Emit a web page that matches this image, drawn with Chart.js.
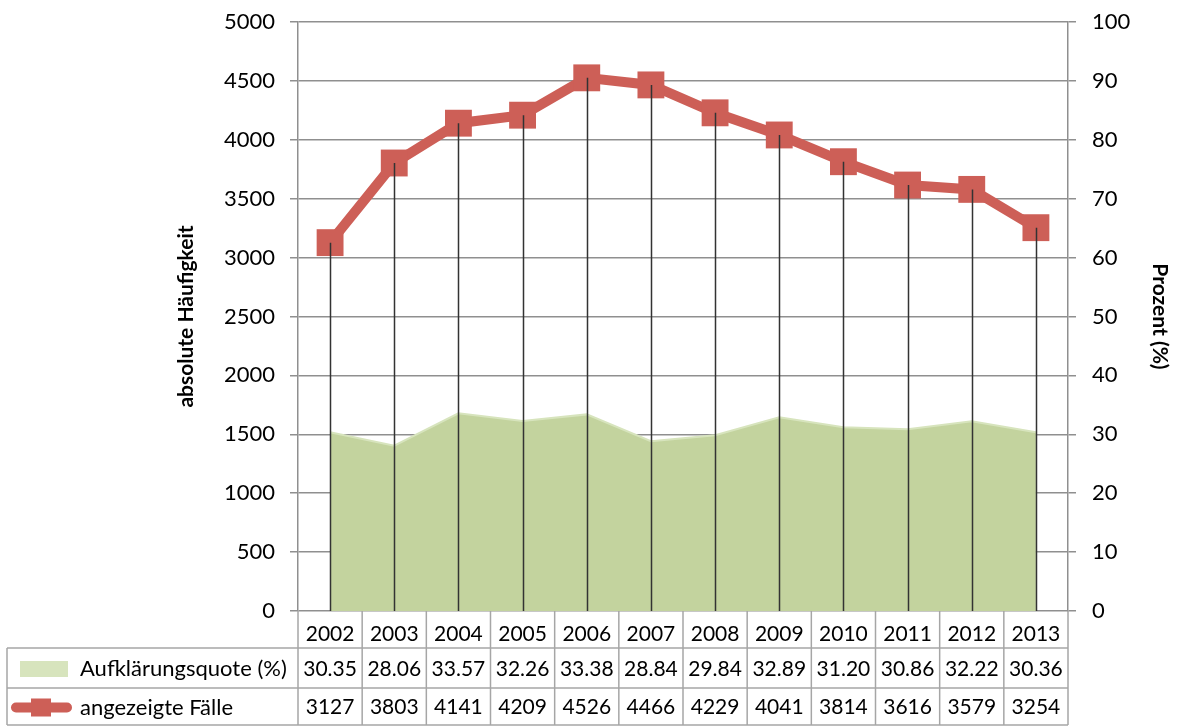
<!DOCTYPE html>
<html>
<head>
<meta charset="utf-8">
<script src="https://cdn.jsdelivr.net/npm/chart.js@4/dist/chart.umd.min.js"></script>
<style>
  html, body { margin: 0; padding: 0; background: #ffffff; }
  #wrap { width: 1177px; height: 726px; }
</style>
</head>
<body>
<div id="wrap"><canvas id="c" width="1177" height="726"></canvas></div>
<script>
const years = ['2002','2003','2004','2005','2006','2007','2008','2009','2010','2011','2012','2013'];
const quote = [30.35, 28.06, 33.57, 32.26, 33.38, 28.84, 29.84, 32.89, 31.20, 30.86, 32.22, 30.36];
const quoteText = ['30.35','28.06','33.57','32.26','33.38','28.84','29.84','32.89','31.20','30.86','32.22','30.36'];
const cases = [3127, 3803, 4141, 4209, 4526, 4466, 4229, 4041, 3814, 3616, 3579, 3254];
const quoteLabel = 'Aufklärungsquote (%)';
const casesLabel = 'angezeigte Fälle';

const FONT = 'Lato, "Open Sans", sans-serif';
const RED = '#CD5F57';
const GREEN = '#C3D39E';
const GREEN_LIGHT = '#D7E4BD';
const GRID = '#8f8f8f';

const dropLines = {
  id: 'dropLines',
  afterDatasetsDraw(chart) {
    const ctx = chart.ctx, x = chart.scales.x, y = chart.scales.y;
    ctx.save();
    ctx.strokeStyle = '#333333';
    ctx.lineWidth = 1.5;
    cases.forEach((v, i) => {
      const px = Math.round(x.getPixelForValue(i)) + 0.5;
      ctx.beginPath();
      ctx.moveTo(px, y.getPixelForValue(v));
      ctx.lineTo(px, y.getPixelForValue(0));
      ctx.stroke();
    });
    ctx.restore();
  }
};

const dataTable = {
  id: 'dataTable',
  afterDraw(chart) {
    const ctx = chart.ctx, x = chart.scales.x, a = chart.chartArea;
    const n = years.length;
    const w = (a.right - a.left) / n;
    const r0 = a.bottom, r1 = a.bottom + 37, r2 = a.bottom + 77, r3 = 725;
    const labelLeft = 7;
    ctx.save();
    ctx.strokeStyle = '#a6a6a6';
    ctx.lineWidth = 1.5;
    for (let i = 0; i <= n; i++) {
      const px = a.left + i * w;
      ctx.beginPath(); ctx.moveTo(px, r0); ctx.lineTo(px, r3); ctx.stroke();
    }
    ctx.beginPath(); ctx.moveTo(labelLeft, r1); ctx.lineTo(labelLeft, r3); ctx.stroke();
    [r1, r2, r3].forEach(ry => {
      ctx.beginPath(); ctx.moveTo(labelLeft, ry); ctx.lineTo(a.right, ry); ctx.stroke();
    });
    ctx.fillStyle = '#000';
    ctx.font = '21px ' + FONT;
    ctx.textAlign = 'center';
    ctx.textBaseline = 'middle';
    const m1 = (r1 + r2) / 2 + 1, m2 = (r2 + r3) / 2 + 1;
    for (let i = 0; i < n; i++) {
      const cx = x.getPixelForValue(i);
      ctx.fillText(quoteText[i], cx, m1);
      ctx.fillText(String(cases[i]), cx, m2);
    }
    ctx.font = '22px ' + FONT;
    ctx.textAlign = 'left';
    ctx.fillText(quoteLabel, 80, m1);
    ctx.fillText(casesLabel, 80, m2);
    ctx.fillStyle = GREEN_LIGHT;
    ctx.fillRect(20, m1 - 8, 48, 16);
    ctx.strokeStyle = RED;
    ctx.lineWidth = 10;
    ctx.lineCap = 'round';
    ctx.beginPath(); ctx.moveTo(16, m2); ctx.lineTo(67, m2); ctx.stroke();
    ctx.fillStyle = RED;
    ctx.fillRect(31, m2 - 9, 20, 18);
    ctx.restore();
  }
};

new Chart(document.getElementById('c'), {
  type: 'line',
  data: {
    labels: years,
    datasets: [
      {
        label: casesLabel,
        data: cases,
        yAxisID: 'y',
        borderColor: RED,
        backgroundColor: RED,
        borderWidth: 10,
        pointStyle: 'rect',
        pointRadius: 19,
        pointBorderWidth: 0,
        pointBackgroundColor: RED,
        tension: 0,
        fill: false
      },
      {
        label: quoteLabel,
        data: quote,
        yAxisID: 'y1',
        borderColor: GREEN_LIGHT,
        borderWidth: 2,
        backgroundColor: GREEN,
        fill: 'origin',
        pointRadius: 0,
        tension: 0
      }
    ]
  },
  options: {
    responsive: false,
    animation: false,
    devicePixelRatio: 1,
    layout: { padding: { left: 174, right: 5, top: 22, bottom: 0 } },
    plugins: { legend: { display: false }, tooltip: { enabled: false } },
    scales: {
      x: {
        type: 'category',
        offset: true,
        grid: { display: false },
        border: { display: false },
        ticks: { color: '#000', font: { family: FONT, size: 21 }, padding: 3, maxRotation: 0, autoSkip: false },
        afterFit(s) { s.height = 115; s.paddingLeft = 0; s.paddingRight = 0; }
      },
      y: {
        position: 'left',
        min: 0, max: 5000,
        ticks: { stepSize: 500, color: '#000', font: { family: FONT, size: 22 }, padding: 15, callback: v => String(v) },
        grid: { color: GRID, lineWidth: 1.5, tickLength: 8 },
        border: { color: GRID, width: 1.5 },
        title: { display: true, text: 'absolute Häufigkeit', color: '#000', font: { family: FONT, size: 21, weight: 'bold' }, padding: 0 },
        afterFit(s) { s.width = 124; s.paddingTop = 0; s.paddingBottom = 0; }
      },
      y1: {
        position: 'right',
        min: 0, max: 100,
        ticks: { stepSize: 10, color: '#000', font: { family: FONT, size: 22 }, padding: 16, callback: v => String(v) },
        grid: { drawOnChartArea: false, color: GRID, lineWidth: 1.5, tickLength: 8 },
        border: { color: GRID, width: 1.5 },
        title: { display: true, text: 'Prozent (%)', color: '#000', font: { family: FONT, size: 21, weight: 'bold' }, padding: 0 },
        afterFit(s) { s.width = 104; s.paddingTop = 0; s.paddingBottom = 0; }
      }
    }
  },
  plugins: [dropLines, dataTable]
});
</script>
</body>
</html>
